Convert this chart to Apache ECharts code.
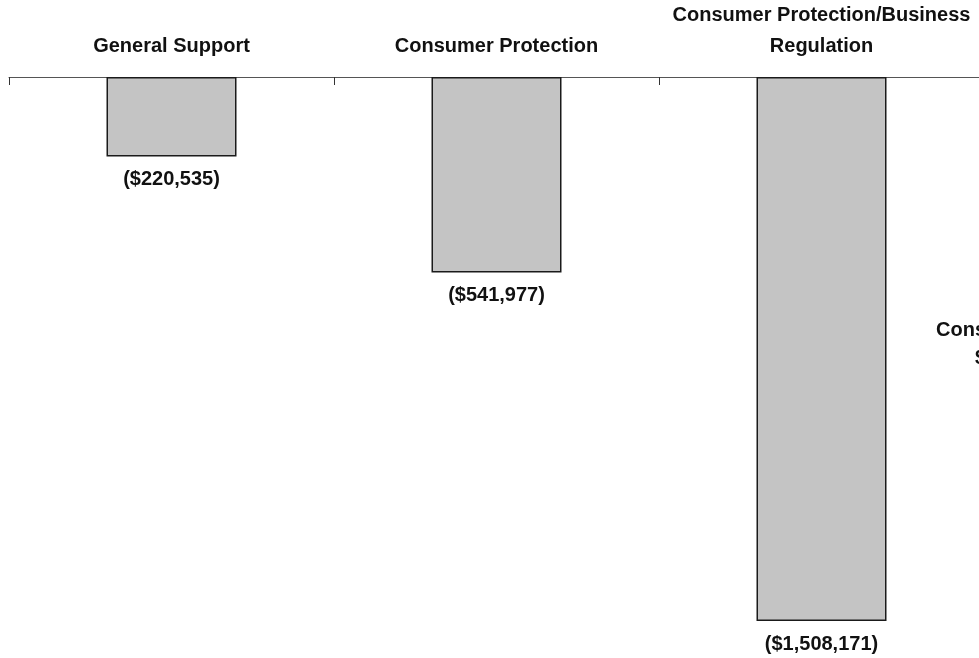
<!DOCTYPE html>
<html>
<head>
<meta charset="utf-8">
<script src="https://cdn.jsdelivr.net/npm/echarts@6/dist/echarts.min.js"></script>
<style>
html, body { margin: 0; padding: 0; background: #fff; }
#chart { width: 979px; height: 658px; }
</style>
</head>
<body>
<div id="chart"></div>
<script>
// categories along the top axis (the 4th column is cut off by the picture edge)
var categories = ['General Support', 'Consumer Protection', 'Consumer Protection/Business\nRegulation', ''];
// reductions, shown as negative bars hanging from the axis
var amounts = [-220535, -541977, -1508171, null];
// partly visible note at the right edge
var sideNote = ['Consumer Protection', '$2,270,683'];

function money(v) {
    var s = Math.abs(v).toString().replace(/\B(?=(\d{3})+(?!\d))/g, ',');
    return v < 0 ? '($' + s + ')' : '$' + s;
}

var labelFont = 'Liberation Sans, Arial, sans-serif';
var chart = echarts.init(document.getElementById('chart'));

var option = {
    backgroundColor: '#fff',
    animation: false,
    grid: {
        left: 9,
        top: 77,
        right: -330,
        bottom: 37,
        containLabel: false,
        outerBoundsMode: 'none'
    },
    xAxis: {
        type: 'category',
        position: 'top',
        data: categories,
        axisLine: { lineStyle: { color: '#555', width: 1 } },
        axisTick: { show: true, inside: true, length: 8, lineStyle: { color: '#333' } },
        axisLabel: {
            interval: 0,
            margin: 15,
            color: '#111',
            fontWeight: 'bold',
            fontSize: 20,
            lineHeight: 31,
            fontFamily: labelFont
        }
    },
    yAxis: {
        type: 'value',
        min: -1508171,
        max: 0,
        show: false,
        splitLine: { show: false }
    },
    series: [{
        type: 'bar',
        data: amounts,
        barWidth: 130,
        itemStyle: {
            color: '#c4c4c4',
            borderColor: '#1a1a1a',
            borderWidth: 1.5
        },
        label: {
            show: true,
            position: 'bottom',
            distance: 13,
            color: '#111',
            fontWeight: 'bold',
            fontSize: 20,
            fontFamily: labelFont,
            formatter: function (p) { return money(p.value); }
        }
    }],
    graphic: sideNote.map(function (t, i) {
        return {
            type: 'text',
            x: i === 0 ? 936 : 975,
            y: i === 0 ? 330 : 358,
            style: {
                text: t,
                align: 'left',
                verticalAlign: 'middle',
                fill: '#111',
                font: 'bold 20px "Liberation Sans", Arial, sans-serif'
            }
        };
    })
};

chart.setOption(option);
</script>
</body>
</html>
